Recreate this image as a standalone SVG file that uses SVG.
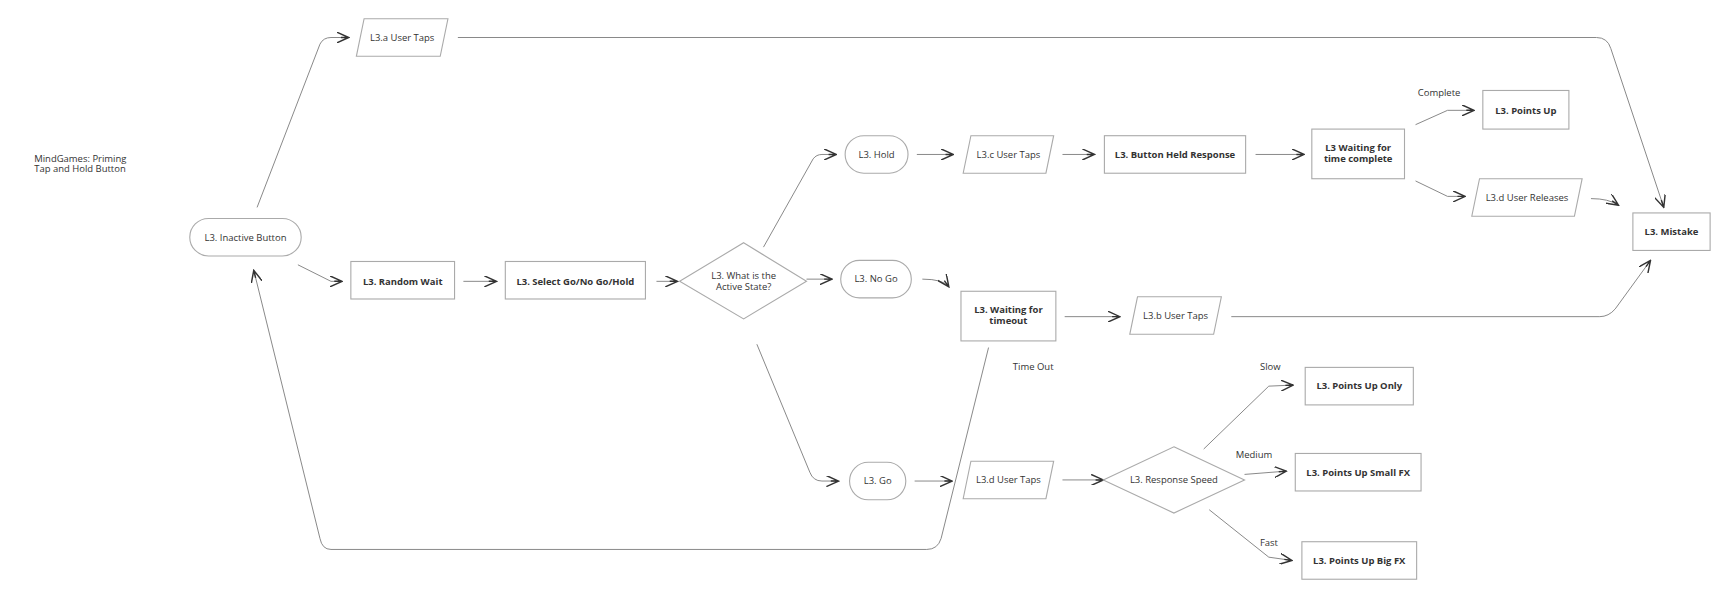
<svg xmlns="http://www.w3.org/2000/svg" width="1730" height="598" viewBox="0 0 1730 598">
<style>
.s{fill:#fff;stroke:#aaa;stroke-width:1}
.t{font-family:"Open Sans","Liberation Sans",sans-serif;font-size:8.6px;fill:#333;text-anchor:middle}
.b{font-weight:bold}
.l{font-family:"Open Sans","Liberation Sans",sans-serif;font-size:8.6px;fill:#333}
.c{fill:none;stroke:#888;stroke-width:0.9;marker-end:url(#a)}
</style>
<defs><marker id="a" viewBox="0 0 12 10" refX="11" refY="5" markerWidth="12" markerHeight="10" markerUnits="userSpaceOnUse" orient="auto"><path d="M0,0 L11,5 L0,10 M11,5 L4,5" fill="none" stroke="#333" stroke-width="1.3"/></marker></defs>
<rect width="1730" height="598" fill="#fff"/>
<g transform="scale(1.1033)">
<text class="l" x="31" y="147">MindGames: Priming</text>
<text class="l" x="31" y="156">Tap and Hold Button</text>
<g id="connectors">
<path class="c" d="M233,188 L290,40 Q293,34 300,34 L316,34"/>
<path class="c" d="M415,34 L1447,34 Q1457,34 1460,44 L1508,188"/>
<path class="c" d="M270,240 L300,255 L310,255"/>
<path class="c" d="M420,255 L450,255"/>
<path class="c" d="M595,255 L614,255"/>
<path class="c" d="M692,224 L737,144 Q740,140 745,140 L758,140"/>
<path class="c" d="M731,253 L754,253"/>
<path class="c" d="M686,312 L734,428 Q737,436 745,436 L760,436"/>
<path class="c" d="M831,140 L864,140"/>
<path class="c" d="M963,140 L992,140"/>
<path class="c" d="M1138,140 L1182,140"/>
<path class="c" d="M1283,113 L1312,100 L1336,100"/>
<path class="c" d="M1283,164 L1312,178 L1328,178"/>
<path class="c" d="M1442,180 Q1458,180 1467,186"/>
<path class="c" d="M836,253 Q855,253 860,260"/>
<path class="c" d="M965,287 L1015,287"/>
<path class="c" d="M1116,287 L1450,287 Q1458,287 1464,280 L1496,236"/>
<path class="c" d="M896,315 L853,488 Q850,498 840,498 L300,498 Q292,498 290,488 L230,245"/>
<path class="c" d="M829,436 L863,436"/>
<path class="c" d="M963,435 L1000,435"/>
<path class="c" d="M1091,407 L1150,350 L1172,349"/>
<path class="c" d="M1128,430 L1166,427"/>
<path class="c" d="M1096,462 L1150,505 L1171,508"/>
</g>
<text class="l" x="918" y="335">Time Out</text>
<text class="l" x="1285" y="87">Complete</text>
<text class="l" x="1142" y="335">Slow</text>
<text class="l" x="1120" y="415">Medium</text>
<text class="l" x="1142" y="495">Fast</text>
<g id="inactive"><rect class="s" x="172" y="198" width="101" height="34" rx="17"/><text class="t" x="222.5" y="218">L3. Inactive Button</text></g>
<g id="random"><rect class="s" x="318" y="237" width="94" height="34"/><text class="t b" x="365" y="258">L3. Random Wait</text></g>
<g id="select"><rect class="s" x="458" y="237" width="127" height="34"/><text class="t b" x="521.5" y="258">L3. Select Go/No Go/Hold</text></g>
<g id="active"><polygon class="s" points="674,220 731,255 674,289 616,255"/><text class="t" x="674" y="253">L3. What is the</text><text class="t" x="674" y="263">Active State?</text></g>
<g id="hold"><rect class="s" x="766" y="123" width="57" height="34" rx="17"/><text class="t" x="794.5" y="143">L3. Hold</text></g>
<g id="nogo"><rect class="s" x="762" y="236" width="64" height="34" rx="17"/><text class="t" x="794" y="256">L3. No Go</text></g>
<g id="go"><rect class="s" x="770" y="419" width="51" height="34" rx="17"/><text class="t" x="795.5" y="439">L3. Go</text></g>
<g id="ctaps"><polygon class="s" points="880,123 955,123 948,157 873,157"/><text class="t" x="914" y="143">L3.c User Taps</text></g>
<g id="bhr"><rect class="s" x="1001" y="123" width="128" height="34"/><text class="t b" x="1065" y="143">L3. Button Held Response</text></g>
<g id="wtc"><rect class="s" x="1189" y="117" width="84" height="45"/><text class="t b" x="1231" y="137">L3 Waiting for</text><text class="t b" x="1231" y="147">time complete</text></g>
<g id="pu"><rect class="s" x="1344" y="82" width="78" height="35"/><text class="t b" x="1383" y="103">L3. Points Up</text></g>
<g id="rel"><polygon class="s" points="1341,162 1434,162 1427,196 1334,196"/><text class="t" x="1384" y="182">L3.d User Releases</text></g>
<g id="mistake"><rect class="s" x="1480" y="193" width="70" height="34"/><text class="t b" x="1515" y="213">L3. Mistake</text></g>
<g id="ataps"><polygon class="s" points="330,17 406,17 399,51 323,51"/><text class="t" x="364.5" y="37">L3.a User Taps</text></g>
<g id="wto"><rect class="s" x="871" y="264" width="86" height="45"/><text class="t b" x="914" y="284">L3. Waiting for</text><text class="t b" x="914" y="294">timeout</text></g>
<g id="btaps"><polygon class="s" points="1031,269 1107,269 1100,303 1024,303"/><text class="t" x="1065.5" y="289">L3.b User Taps</text></g>
<g id="dtaps"><polygon class="s" points="880,418 955,418 948,452 873,452"/><text class="t" x="914" y="438">L3.d User Taps</text></g>
<g id="rs"><polygon class="s" points="1064,405 1128,435 1064,465 1000,435"/><text class="t" x="1064" y="438">L3. Response Speed</text></g>
<g id="puo"><rect class="s" x="1183" y="333" width="98" height="34"/><text class="t b" x="1232" y="353">L3. Points Up Only</text></g>
<g id="pus"><rect class="s" x="1174" y="411" width="114" height="34"/><text class="t b" x="1231" y="431">L3. Points Up Small FX</text></g>
<g id="pub"><rect class="s" x="1180" y="491" width="104" height="34"/><text class="t b" x="1232" y="511">L3. Points Up Big FX</text></g>
</g>
</svg>
